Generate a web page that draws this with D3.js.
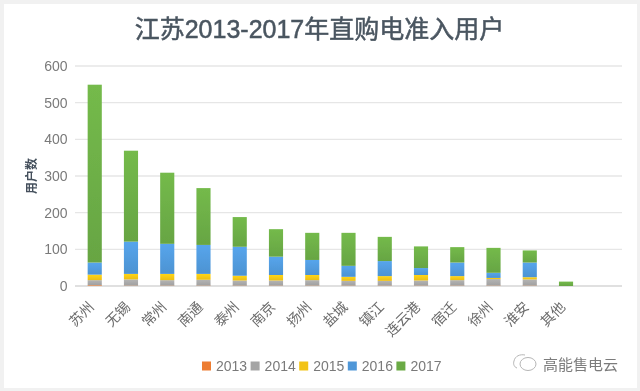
<!DOCTYPE html>
<html>
<head>
<meta charset="utf-8">
<script src="https://cdn.jsdelivr.net/npm/d3@7"></script>
<style>
	html, body { margin: 0; padding: 0; background: #fff; }
	svg { display: block; }
	text { font-family: "Liberation Sans", sans-serif; }
	.cjk { font-family: "Noto Sans CJK SC", sans-serif; }
	.title { font-family: "Liberation Sans", "Noto Sans CJK SC", sans-serif; }
</style>
</head>
<body>
<svg id="chart" width="640" height="391"></svg>
<script>
const cities = ["苏州", "无锡", "常州", "南通", "泰州", "南京", "扬州", "盐城", "镇江", "连云港", "宿迁", "徐州", "淮安", "其他"];
const years = ["2013", "2014", "2015", "2016", "2017"];
const yearColors = ["#ed7d31", "#a5a5a5", "#f2c314", "#4f97d8", "#6aaa45"];
const yTicks = [0, 100, 200, 300, 400, 500, 600];

const v2013 = [2, 1, 1, 1, 1, 1, 1, 1, 1, 1, 1, 1, 1, 0];
const v2014 = [14, 17, 15, 16, 14, 14, 15, 13, 13, 14, 15, 18, 17, 0];
const v2015 = [15, 15, 17, 16, 13, 15, 14, 11, 13, 15, 11, 3, 6, 0];
const v2016 = [33, 88, 82, 79, 79, 50, 41, 30, 41, 19, 37, 14, 40, 0];
const v2017 = [485, 248, 194, 155, 81, 75, 74, 90, 66, 59, 42, 68, 33, 12];

const seriesValues = [v2013, v2014, v2015, v2016, v2017];

const margin = { left: 76.6, right: 19.6, top: 66, bottom: 105 };
const width = 640, height = 391;

const rows = cities.map((c, i) => {
	const row = { city: c };
	years.forEach((y, k) => { row[y] = seriesValues[k][i]; });
	return row;
});

const svg = d3.select("#chart");

// the picture sits inside a faint grey frame
svg.append("rect").attr("width", width).attr("height", height).attr("fill", "#f1f1f1");
svg.append("rect").attr("x", 4).attr("y", 4).attr("width", 633).attr("height", 384).attr("fill", "#fff");

const defs = svg.append("defs");
yearColors.forEach((col, k) => {
	const grad = defs.append("linearGradient")
		.attr("id", "bar-" + k)
		.attr("x1", 0).attr("x2", 0).attr("y1", 0).attr("y2", 1);
	grad.append("stop").attr("offset", "0%").attr("stop-color", d3.rgb(col).brighter(0.25));
	grad.append("stop").attr("offset", "100%").attr("stop-color", d3.rgb(col).darker(0.08));
});
// the reference is a soft, re-compressed screenshot
defs.append("filter").attr("id", "soft")
	.append("feGaussianBlur").attr("stdDeviation", 0.45);

const plot = svg.append("g").attr("filter", "url(#soft)");

const x = d3.scaleBand()
	.domain(cities.concat([""]))
	.range([margin.left, width - margin.right])
	.paddingInner(0.61)
	.paddingOuter(0.305);

const y = d3.scaleLinear()
	.domain([0, 600])
	.range([height - margin.bottom, margin.top]);

// grid lines
plot.append("g")
	.selectAll("line")
	.data(yTicks)
	.join("line")
	.attr("x1", 75)
	.attr("x2", 622)
	.attr("y1", d => y(d))
	.attr("y2", d => y(d))
	.attr("stroke", d => d === 0 ? "#d6d6d6" : "#e6e6e6")
	.attr("stroke-width", 1.4);

// y axis labels
const yAxis = plot.append("g")
	.attr("transform", `translate(${margin.left - 9}, 0)`)
	.call(d3.axisLeft(y).tickValues(yTicks).tickSize(0).tickPadding(0));
yAxis.select(".domain").remove();
yAxis.selectAll("text")
	.style("font-family", "'Liberation Sans', sans-serif")
	.style("font-size", "14px")
	.attr("fill", "#7a7a7a");

// stacked bars
const stack = d3.stack().keys(years)(rows);
plot.append("g")
	.selectAll("g")
	.data(stack)
	.join("g")
	.attr("fill", (d, k) => `url(#bar-${k})`)
	.selectAll("rect")
	.data(d => d.filter(p => p[1] > p[0]))
	.join("rect")
	.attr("x", d => x(d.data.city))
	.attr("width", x.bandwidth())
	.attr("y", d => y(d[1]))
	.attr("height", d => y(d[0]) - y(d[1]));

// rotated category labels
plot.append("g")
	.selectAll("text")
	.data(cities)
	.join("text")
	.attr("class", "cjk")
	.attr("transform", d => `translate(${x(d) + x.bandwidth() / 2 - 4}, ${height - margin.bottom + 17.5}) rotate(-45)`)
	.attr("text-anchor", "end")
	.attr("dominant-baseline", "central")
	.attr("font-size", 14)
	.attr("fill", "#6b6b6b")
	.text(d => d);

// title: regular face with a thin stroke, the original is medium weight
plot.append("text")
	.attr("class", "title")
	.attr("x", 319.5)
	.attr("y", 38)
	.attr("text-anchor", "middle")
	.attr("font-size", 25)
	.attr("fill", "#4a5560")
	.attr("stroke", "#4a5560")
	.attr("stroke-width", 0.5)
	.text("江苏2013-2017年直购电准入用户");

// y axis title
plot.append("text")
	.attr("class", "cjk")
	.attr("transform", "translate(30, 176) rotate(-90)")
	.attr("text-anchor", "middle")
	.attr("dominant-baseline", "central")
	.attr("font-size", 12)
	.attr("font-weight", 700)
	.attr("fill", "#44505c")
	.text("用户数");

// legend
const legend = plot.append("g")
	.selectAll("g")
	.data(years)
	.join("g")
	.attr("transform", (d, k) => `translate(${202 + k * 48.6}, 366)`);
legend.append("rect")
	.attr("y", -4.5)
	.attr("width", 9)
	.attr("height", 9)
	.attr("fill", (d, k) => yearColors[k]);
legend.append("text")
	.attr("x", 14)
	.attr("dominant-baseline", "central")
	.attr("font-size", 14)
	.attr("fill", "#7a7a7a")
	.text(d => d);

// watermark
const mark = plot.append("g")
	.attr("transform", "translate(514, 362)")
	.attr("fill", "none")
	.attr("stroke", "#b5b5b5")
	.attr("stroke-width", 1);
mark.append("path").attr("d", "M0,-1 C1,-6 6,-8 11,-7 M3,6 C0,5 -1,2 0,-1");
mark.append("ellipse").attr("cx", 14).attr("cy", 2).attr("rx", 8).attr("ry", 6.5);

plot.append("text")
	.attr("class", "cjk")
	.attr("x", 543)
	.attr("y", 363)
	.attr("dominant-baseline", "central")
	.attr("font-size", 15)
	.attr("fill", "#7c7c7c")
	.text("高能售电云");
</script>
</body>
</html>
